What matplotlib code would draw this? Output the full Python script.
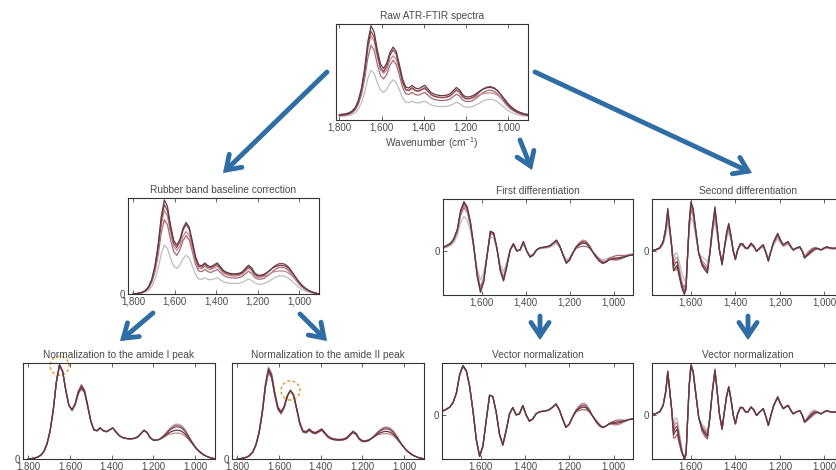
import numpy as np
import matplotlib
matplotlib.use('Agg')
import matplotlib.pyplot as plt
from matplotlib.patches import FancyArrowPatch, Ellipse
from matplotlib.ticker import FuncFormatter

plt.rcParams['font.family'] = ['Liberation Sans', 'DejaVu Sans']
plt.rcParams['mathtext.fontset'] = 'custom'
plt.rcParams['mathtext.rm'] = 'Liberation Sans'

W, H = 836, 470

# wavenumber grid (cm-1) for the absorbance / 1st derivative curves
wn = np.arange(1800, 899, -15)

# rubber band corrected spectrum (top curve)
absorb = np.array([
    0.000, 0.004, 0.010, 0.020, 0.040, 0.080, 0.160, 0.300, 0.520, 0.820,
    1.000, 0.930, 0.730, 0.570, 0.520, 0.580, 0.700, 0.760, 0.710, 0.560,
    0.400, 0.310, 0.300, 0.330, 0.300, 0.290, 0.310, 0.330, 0.290, 0.250,
    0.230, 0.220, 0.215, 0.215, 0.220, 0.235, 0.270, 0.305, 0.280, 0.225,
    0.200, 0.200, 0.210, 0.230, 0.255, 0.280, 0.295, 0.305, 0.305, 0.295,
    0.270, 0.230, 0.185, 0.140, 0.100, 0.070, 0.045, 0.028, 0.015, 0.006,
    0.000])
# where the individual spectra differ in shape (amide II, 1080 band)
band_var = np.zeros(len(wn))
band_var[15:20] = [0.01, 0.02, 0.03, 0.02, 0.01]
band_var[43:54] = [0.01, 0.02, 0.035, 0.05, 0.06, 0.06, 0.055, 0.045, 0.03, 0.015, 0.005]

rb_scale = [1.00, 0.95, 0.89, 0.79, 0.52]
rb_coef = [0.0, 0.6, -0.5, 0.9, 1.1]
raw_offset = [0.06, 0.05, 0.06, 0.05, 0.04]

# first derivative (smoothed), top curve
d1_base = np.array([
    0.04, 0.05, 0.08, 0.11, 0.15, 0.24, 0.42, 0.78, 0.95, 0.85,
    0.55, 0.08, -0.48, -0.80, -0.60, -0.10, 0.38, 0.35, 0.05, -0.38,
    -0.58, -0.30, 0.02, 0.14, 0.00, 0.02, 0.18, 0.00, -0.12, -0.08,
    0.02, 0.06, 0.07, 0.08, 0.10, 0.15, 0.21, 0.10, -0.08, -0.24,
    -0.18, -0.04, 0.07, 0.12, 0.15, 0.14, 0.08, -0.02, -0.11, -0.19,
    -0.24, -0.22, -0.17, -0.15, -0.14, -0.13, -0.12, -0.11, -0.09, -0.08,
    -0.07])
d1_var = np.zeros(len(wn))
d1_var[42:58] = [0.02, 0.05, 0.07, 0.06, 0.03, 0.0, -0.02, -0.02,
                 -0.01, 0.0, -0.01, -0.03, -0.05, -0.05, -0.03, -0.01]
d1_scale = [1.00, 0.97, 0.93, 0.88, 0.70]
d1_coef = [0.0, 0.5, 1.0, -0.6, 0.8]

# second derivative, read at its turning points
d2_wn = np.array([
    1785, 1760, 1740, 1725, 1713, 1704, 1695, 1687, 1678, 1670,
    1662, 1652, 1642, 1630, 1622, 1615, 1608, 1600, 1590, 1578,
    1565, 1550, 1535, 1526, 1515, 1504, 1492, 1482, 1472, 1460,
    1450, 1440, 1430, 1420, 1410, 1400, 1390, 1378, 1368, 1355,
    1345, 1330, 1318, 1305, 1290, 1275, 1262, 1252, 1240, 1228,
    1210, 1198, 1185, 1172, 1163, 1150, 1140, 1125, 1110, 1098,
    1089, 1075, 1059, 1045, 1030, 1015, 1000, 990, 975, 960,
    940, 920])
d2_base = np.array([
    0.00, 0.02, 0.06, 0.18, 0.45, 0.82, 0.45, 0.12, -0.38, -0.32,
    -0.28, -0.50, -0.70, -0.84, -0.75, -0.10, 0.55, 0.95, 0.82, 0.40,
    -0.05, -0.28, -0.38, -0.43, -0.05, 0.44, 0.85, 0.45, 0.02, -0.27,
    0.05, 0.35, 0.53, 0.30, 0.00, -0.17, 0.02, 0.14, 0.14, 0.06,
    0.05, 0.15, 0.10, -0.01, 0.06, 0.12, -0.05, -0.20, 0.00, 0.18,
    0.34, 0.22, 0.12, 0.16, 0.18, 0.08, 0.02, 0.06, 0.08, -0.02,
    -0.14, -0.08, -0.01, 0.04, 0.05, 0.02, 0.06, 0.08, 0.06, 0.05,
    0.06, 0.07])
d2_var = np.zeros(len(d2_wn))
d2_var[8:13] = [0.10, 0.15, 0.12, 0.10, 0.06]
d2_var[21:24] = [0.06, 0.08, 0.06]
d2_var[61:64] = [0.03, 0.04, 0.03]
d2_scale = [1.00, 0.95, 0.90, 0.83, 0.68]
d2_coef = [0.0, 0.5, 1.0, -0.7, 1.2]

colors = ['#5e3b40', '#8e4450', '#c3868e', '#a86a72', '#bdbdbd']
blue = '#2f6ea5'
grey = '#4a4a4a'

rb = [s * (absorb + c * band_var) for s, c in zip(rb_scale, rb_coef)]
raw = [r + o for r, o in zip(rb, raw_offset)]
am1 = [r / r[10] for r in rb]      # 1650 cm-1
am2 = [r / r[17] for r in rb]      # 1545 cm-1
d1 = [s * d1_base + c * d1_var for s, c in zip(d1_scale, d1_coef)]
d2 = [s * d2_base + c * d2_var for s, c in zip(d2_scale, d2_coef)]
ref1 = np.linalg.norm(d1[0])
ref2 = np.linalg.norm(d2[0])
v1 = [d / np.linalg.norm(d) * ref1 for d in d1]
v2 = [d / np.linalg.norm(d) * ref2 for d in d2]

fig = plt.figure(figsize=(W / 100, H / 100), dpi=100)
fmt = FuncFormatter(lambda v, p: f'{v:,.0f}')


def panel(l, t, r, b, title, x, ys, xlim, ylim, zero=True, ticks=(1800, 1600, 1400, 1200, 1000)):
    ax = fig.add_axes([l / W, 1 - b / H, (r - l) / W, (b - t) / H])
    for y, c in reversed(list(zip(ys, colors))):
        ax.plot(x, y, color=c, lw=0.9)
    ax.set_xlim(xlim)
    ax.set_ylim(ylim)
    ax.set_xticks(ticks)
    ax.xaxis.set_major_formatter(fmt)
    if zero:
        ax.set_yticks([0])
        ax.set_yticklabels(['0'])
    else:
        ax.set_yticks([])
    ax.tick_params(direction='in', length=3, width=0.6, top=True, labelsize=7,
                   colors=grey, pad=2)
    for s in ax.spines.values():
        s.set_color('#333333')
        s.set_linewidth(0.8)
    ax.set_title(title, fontsize=7.3, color=grey, pad=3.5)
    return ax


ab_lim = (1825, 905)
dv_lim = (1775, 912)
dv_ticks = (1600, 1400, 1200, 1000)

top = panel(336, 24, 528, 120, 'Raw ATR-FTIR spectra', wn, raw, (1816, 905), (0, 1.08), zero=False)
top.set_xlabel('Wavenumber (cm$^{-1}$)', fontsize=7.3, color=grey, labelpad=2)

panel(128, 198, 319, 294, 'Rubber band baseline correction', wn, rb, ab_lim, (0, 1.02))
panel(443, 199, 633, 295, 'First differentiation', wn, d1, dv_lim, (-0.85, 1.0), ticks=dv_ticks)
panel(652, 199, 844, 295, 'Second differentiation', d2_wn, d2, dv_lim, (-0.85, 1.0), ticks=dv_ticks)

a1 = panel(23, 363, 215, 459, 'Normalization to the amide I peak', wn, am1, ab_lim, (0, 1.02))
a2 = panel(232, 363, 424, 459, 'Normalization to the amide II peak', wn, am2, ab_lim, (0, 1.40))
panel(442, 363, 633, 459, 'Vector normalization', wn, v1, dv_lim, (-0.85, 1.0), ticks=dv_ticks)
panel(652, 363, 844, 459, 'Vector normalization', d2_wn, v2, dv_lim, (-0.85, 1.0), ticks=dv_ticks)

# dashed circles marking the normalisation peak
a1.add_patch(Ellipse((1650, 0.99), 91, 0.20, fill=False, ec='#e2a03a', lw=1.1,
                     ls=(0, (2, 1.5)), clip_on=False))
a2.add_patch(Ellipse((1545, 1.0), 91, 0.28, fill=False, ec='#e2a03a', lw=1.1,
                     ls=(0, (2, 1.5)), clip_on=False))

# flow arrows
ov = fig.add_axes([0, 0, 1, 1], zorder=5)
ov.set_xlim(0, W)
ov.set_ylim(H, 0)
ov.axis('off')
arrows = [(327, 72, 223, 173), (535, 72, 752, 173), (520, 140, 532, 170),
          (153, 313, 120, 341), (300, 314, 327, 341),
          (540, 316, 540, 340), (748, 316, 748, 340)]
for x0, y0, x1, y1 in arrows:
    ov.add_patch(FancyArrowPatch((x0, y0), (x1, y1),
                                 arrowstyle='->,head_length=0.95,head_width=0.65',
                                 mutation_scale=10, lw=3.5, color=blue,
                                 shrinkA=0, shrinkB=0, joinstyle='miter'))

fig.savefig('out.png', dpi=100)
